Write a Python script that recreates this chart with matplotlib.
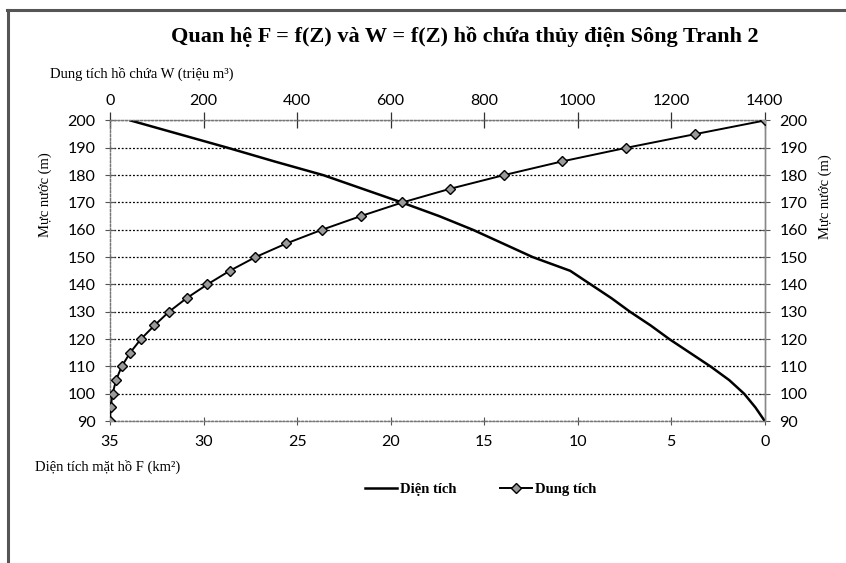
import matplotlib.pyplot as plt
from matplotlib.lines import Line2D

# Mực nước Z (m)
muc_nuoc = [90, 95, 100, 105, 110, 115, 120, 125, 130, 135, 140, 145,
            150, 155, 160, 165, 170, 175, 180, 185, 190, 195, 200]
# Dung tích W (triệu m3)
dung_tich = [0, 1.5, 5.5, 13, 25, 43, 66, 95, 126, 164, 208, 256,
             311, 377, 453, 536, 625, 727, 842, 966, 1104, 1251, 1400]
# Diện tích F (km2)
dien_tich = [0, 0.5, 1.1, 1.9, 2.9, 4.0, 5.1, 6.1, 7.2, 8.2, 9.3, 10.4,
             12.4, 14.0, 15.6, 17.4, 19.4, 21.5, 23.6, 26.2, 28.7, 31.3, 33.9]

f_ticks = [35, 30, 25, 20, 15, 10, 5, 0]
w_ticks = [0, 200, 400, 600, 800, 1000, 1200, 1400]
z_ticks = list(range(90, 201, 10))

SERIF = "Liberation Serif"
SANS = "Lato"

fig = plt.figure(figsize=(8.46, 5.63), dpi=100)
ax = fig.add_axes([0.130, 0.252, 0.774, 0.534])

# Diện tích (bottom axis, reversed)
ax.plot(dien_tich, muc_nuoc, color="black", linewidth=1.8, zorder=3)
ax.set_xlim(35, 0)
ax.set_ylim(90, 200)
ax.set_xticks(f_ticks)
ax.set_yticks(z_ticks)
ax.grid(axis="y", linestyle=(0, (1.5, 1.5)), color="black", linewidth=0.9)
ax.tick_params(axis="x", direction="inout", length=6, width=0.8, color="#555555",
               pad=7, labelsize=11.5)
ax.tick_params(axis="y", direction="inout", length=7, width=0.8, color="#555555",
               pad=7, labelsize=11.5, left=True, right=True, labelright=True)
for lab in ax.get_xticklabels() + ax.get_yticklabels():
    lab.set_fontfamily(SANS)

# Dung tích (top axis)
ax2 = ax.twiny()
ax2.plot(dung_tich, muc_nuoc, color="black", linewidth=1.4, marker="D",
         markersize=5, markerfacecolor="#9a9a9a", markeredgecolor="black",
         markeredgewidth=1.0, zorder=4)
ax2.set_xlim(0, 1400)
ax2.set_xticks(w_ticks)
ax2.tick_params(axis="x", direction="inout", length=12, width=0.9, color="#333333",
                pad=3, labelsize=11.5)
for lab in ax2.get_xticklabels():
    lab.set_fontfamily(SANS)

for a in (ax, ax2):
    for side in ("left", "top", "bottom"):
        a.spines[side].set_color("#777777")
        a.spines[side].set_linestyle((0, (1.5, 1.5)))
        a.spines[side].set_linewidth(0.9)
    a.spines["right"].set_color("#888888")
    a.spines["right"].set_linewidth(1.0)

# Axis titles
fig.text(0.550, 0.934, "Quan hệ F = f(Z) và W = f(Z) hồ chứa thủy điện Sông Tranh 2",
         ha="center", va="center", fontsize=16, fontweight="bold", family=SERIF)
fig.text(0.059, 0.868, "Dung tích hồ chứa W (triệu m³)", ha="left", va="center",
         fontsize=10.5, family=SERIF)
fig.text(0.041, 0.171, "Diện tích mặt hồ F (km²)", ha="left", va="center",
         fontsize=10.5, family=SERIF)
fig.text(0.053, 0.654, "Mực nước (m)", ha="center", va="center", rotation=90,
         fontsize=10.5, family=SERIF)
fig.text(0.975, 0.650, "Mực nước (m)", ha="center", va="center", rotation=90,
         fontsize=10.5, family=SERIF)

# Legend
handles = [
    Line2D([], [], color="black", linewidth=1.8),
    Line2D([], [], color="black", linewidth=1.4, marker="D", markersize=5,
           markerfacecolor="#9a9a9a", markeredgecolor="black"),
]
fig.legend(handles, ["Diện tích", "Dung tích"], loc="center", bbox_to_anchor=(0.568, 0.131),
           ncol=2, frameon=False, handlelength=2.2, handletextpad=0.2, columnspacing=3.0,
           prop={"family": SERIF, "size": 10.5, "weight": "bold"})

# Outer frame (top and left edges)
fig.add_artist(Line2D([0.008, 1.0], [0.983, 0.983], transform=fig.transFigure,
                      color="#555555", linewidth=2.2))
fig.add_artist(Line2D([0.009, 0.009], [0.0, 0.983], transform=fig.transFigure,
                      color="#555555", linewidth=2.2))

fig.savefig("out.png", dpi=100)
